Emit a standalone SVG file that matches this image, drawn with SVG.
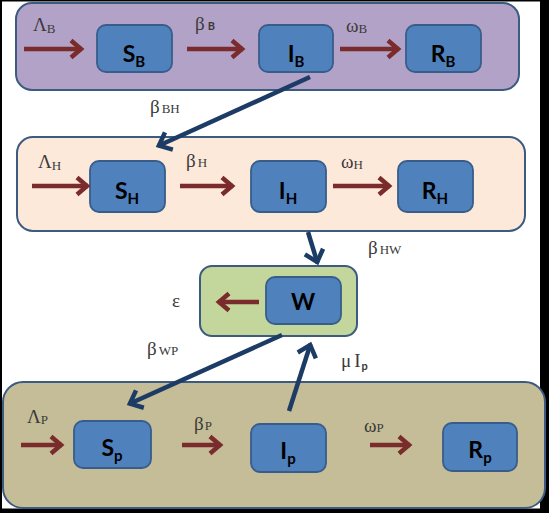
<svg xmlns="http://www.w3.org/2000/svg" width="549" height="513" viewBox="0 0 549 513">
<defs>
<style>
.big{stroke:#3d5a80;stroke-width:2}
.nd{fill:#4f81bd;stroke:#385d8a;stroke-width:1.8}
.n{font-family:Lato,"Open Sans",sans-serif;font-weight:700;font-size:23px;fill:#000;text-anchor:middle}
.ns{font-size:15px}
.g{font-family:"Liberation Serif","DejaVu Serif",serif;font-size:19px;fill:#3a3a3a}
.gs{font-size:13px}
.bs{font-family:Lato,"Open Sans",sans-serif;font-weight:700;font-size:11px}
.ra{stroke:#7a2b2b;stroke-width:4.5;fill:none;marker-end:url(#mr)}
.ba{stroke:#1c3c66;stroke-width:4.5;fill:none;marker-end:url(#mb)}
</style>
<marker id="mr" markerUnits="userSpaceOnUse" markerWidth="24" markerHeight="24" refX="14" refY="10" orient="auto" overflow="visible">
<path d="M3,1.5 L13,10 L3,18.5" fill="none" stroke="#7a2b2b" stroke-width="4.5" stroke-linecap="butt"/>
</marker>
<marker id="mb" markerUnits="userSpaceOnUse" markerWidth="26" markerHeight="26" refX="15" refY="11" orient="auto" overflow="visible">
<path d="M3,1.5 L14,11 L3,20.5" fill="none" stroke="#1c3c66" stroke-width="4.5"/>
</marker>
</defs>
<rect x="0" y="0" width="549" height="513" fill="#000"/>
<rect x="2" y="1.5" width="538" height="507" fill="#fff"/>

<g id="compartment-B">
<rect class="big" x="16" y="3" width="503" height="87" rx="16" fill="#b3a2c7"/>
</g>
<g id="compartment-H">
<rect class="big" x="17" y="137" width="508" height="94" rx="16" fill="#fde9d9"/>
</g>
<g id="compartment-W">
<rect class="big" x="200" y="266" width="157" height="70" rx="12" fill="#c3d69b"/>
</g>
<g id="compartment-P">
<rect class="big" x="3" y="382" width="542" height="126" rx="20" fill="#c4bd97"/>
</g>

<g id="S_B"><rect class="nd" x="97" y="25" width="75" height="47" rx="9"/><text class="n" x="134" y="62">S<tspan class="ns" dy="5">B</tspan></text></g>
<g id="I_B"><rect class="nd" x="259" y="25" width="74" height="47" rx="9"/><text class="n" x="296" y="62">I<tspan class="ns" dy="5">B</tspan></text></g>
<g id="R_B"><rect class="nd" x="406" y="25" width="75" height="47" rx="9"/><text class="n" x="443" y="62">R<tspan class="ns" dy="5">B</tspan></text></g>

<g id="S_H"><rect class="nd" x="90" y="161" width="75" height="51" rx="9"/><text class="n" x="127" y="199">S<tspan class="ns" dy="5">H</tspan></text></g>
<g id="I_H"><rect class="nd" x="251" y="161" width="75" height="51" rx="9"/><text class="n" x="288" y="199">I<tspan class="ns" dy="5">H</tspan></text></g>
<g id="R_H"><rect class="nd" x="398" y="161" width="75" height="51" rx="9"/><text class="n" x="435" y="199">R<tspan class="ns" dy="5">H</tspan></text></g>

<g id="W"><rect class="nd" x="266" y="277" width="75" height="47" rx="9"/><text class="n" x="303" y="310">W</text></g>

<g id="S_P"><rect class="nd" x="74" y="421" width="77" height="47" rx="9"/><text class="n" x="112" y="456">S<tspan class="ns" dy="5">p</tspan></text></g>
<g id="I_P"><rect class="nd" x="251" y="424" width="75" height="48" rx="9"/><text class="n" x="288" y="459">I<tspan class="ns" dy="5">p</tspan></text></g>
<g id="R_P"><rect class="nd" x="443" y="423" width="74" height="48" rx="9"/><text class="n" x="480" y="458">R<tspan class="ns" dy="5">p</tspan></text></g>

<g id="connectors">
<line class="ra" x1="24" y1="49" x2="82" y2="49"/>
<line class="ra" x1="187" y1="49" x2="243" y2="49"/>
<line class="ra" x1="340" y1="49" x2="399" y2="49"/>
<line class="ra" x1="32" y1="186" x2="88" y2="186"/>
<line class="ra" x1="180" y1="186" x2="233" y2="186"/>
<line class="ra" x1="333" y1="186" x2="390" y2="186"/>
<line class="ra" x1="259" y1="302" x2="218" y2="302"/>
<line class="ra" x1="21" y1="445" x2="62" y2="445"/>
<line class="ra" x1="182" y1="445" x2="221" y2="445"/>
<line class="ra" x1="370" y1="445" x2="410" y2="445"/>
<line class="ba" x1="310" y1="77" x2="158" y2="146"/>
<line class="ba" x1="308" y1="232" x2="317.5" y2="263"/>
<line class="ba" x1="282" y1="335" x2="129" y2="404"/>
<line class="ba" x1="289" y1="411" x2="310.5" y2="344"/>
</g>

<g id="labels">
<text class="g" x="33" y="31">Λ<tspan class="gs" dy="2">B</tspan></text>
<text class="g" x="195" y="30">β<tspan class="bs" dx="3" dy="0">B</tspan></text>
<text class="g" x="346" y="32">ω<tspan class="gs" dy="1">B</tspan></text>
<text class="g" x="150" y="113">β<tspan class="gs" dx="2" dy="0">BH</tspan></text>
<text class="g" x="38" y="168">Λ<tspan class="gs" dy="2">H</tspan></text>
<text class="g" x="186" y="167">β<tspan class="gs" dx="2" dy="0">H</tspan></text>
<text class="g" x="341" y="168">ω<tspan class="gs" dy="1">H</tspan></text>
<text class="g" x="368" y="254">β<tspan class="gs" dx="2" dy="0">HW</tspan></text>
<text class="g" x="172" y="307">ε</text>
<text class="g" x="147" y="355">β<tspan class="gs" dx="2" dy="0">WP</tspan></text>
<text class="g" x="341" y="367" fill="#000">μ<tspan dx="3">I</tspan><tspan class="bs" font-size="13" dx="1" dy="3">p</tspan></text>
<text class="g" x="27" y="423">Λ<tspan class="gs" dy="1">P</tspan></text>
<text class="g" x="194" y="430">β<tspan class="gs" dx="1" dy="0">P</tspan></text>
<text class="g" x="364" y="432">ω<tspan class="gs" dy="0">P</tspan></text>
</g>
</svg>
